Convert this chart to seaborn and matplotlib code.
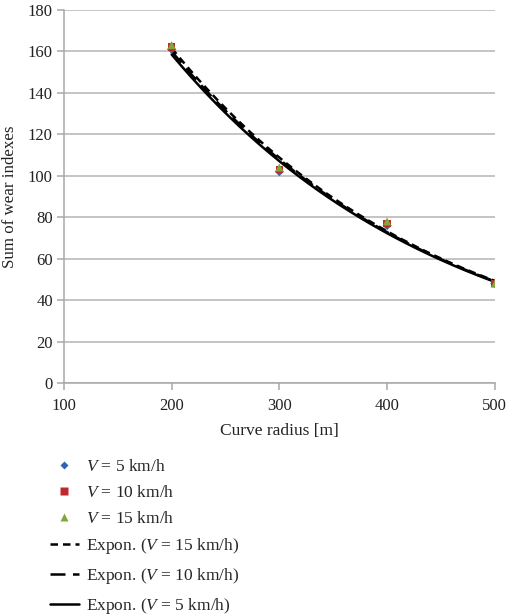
import numpy as np
import pandas as pd
import matplotlib
matplotlib.use("Agg")
import matplotlib.pyplot as plt
import seaborn as sns
from matplotlib.lines import Line2D

# Measured wear index sums per curve radius and running speed
radius = [200, 300, 400, 500]
wear_5 = [161, 102, 76, 48]
wear_10 = [162, 103, 77, 48]
wear_15 = [163, 104, 78, 48]
speeds = [5, 10, 15]

sns.set_theme(style="white")
plt.rcParams["font.family"] = ["Liberation Serif", "DejaVu Serif"]
plt.rcParams["mathtext.fontset"] = "custom"
plt.rcParams["mathtext.rm"] = "Liberation Serif"
plt.rcParams["mathtext.it"] = "Liberation Serif:italic"

points = pd.DataFrame({
    "radius": radius * 3,
    "wear": wear_5 + wear_10 + wear_15,
    "speed": [5] * 4 + [10] * 4 + [15] * 4,
})

# Exponential trendlines y = a*exp(b*x) fitted to each speed series
grid = np.linspace(200, 500, 200)
fits = []
for sp in speeds:
    sub = points[points["speed"] == sp]
    b, ln_a = np.polyfit(sub["radius"], np.log(sub["wear"]), 1)
    fits.append(pd.DataFrame({"radius": grid, "wear": np.exp(ln_a + b * grid), "speed": sp}))
fits = pd.concat(fits, ignore_index=True)

fig = plt.figure(figsize=(5.07, 6.16), dpi=100)
ax = fig.add_axes([0.126, 0.378, 0.85, 0.606])

line_styles = {15: (0, (3, 2)), 10: (0, (6, 3)), 5: "-"}
for sp in [15, 10, 5]:
    sub = fits[fits["speed"] == sp]
    sns.lineplot(data=sub, x="radius", y="wear", ax=ax, color="black",
                 lw=1.8, linestyle=line_styles[sp], legend=False, zorder=3)

marker_style = {5: ("D", "#2e64b4", 22), 10: ("s", "#c0282d", 30), 15: ("^", "#7ea83a", 34)}
for sp in speeds:
    sub = points[points["speed"] == sp]
    m, c, s = marker_style[sp]
    sns.scatterplot(data=sub, x="radius", y="wear", ax=ax, marker=m, color=c,
                    s=s, edgecolor="none", legend=False, zorder=4)

ax.set_xlim(100, 500)
ax.set_ylim(0, 180)
ax.set_xticks([100, 200, 300, 400, 500])
ax.set_yticks(range(0, 181, 20))
ax.yaxis.grid(True, color="#b4b4b4", lw=1.1)
ax.xaxis.grid(False)
for side in ["top", "right"]:
    ax.spines[side].set_visible(False)
for side in ["left", "bottom"]:
    ax.spines[side].set_color("#a8a8a8")
    ax.spines[side].set_linewidth(1.1)
ax.tick_params(axis="both", direction="out", length=5, width=1.1, color="#a8a8a8",
               labelsize=12, labelcolor="#222222", left=True, bottom=True)
ax.tick_params(axis="x", pad=6)
ax.tick_params(axis="y", pad=3)
ax.set_xlabel("Curve radius [m]", fontsize=12.5, color="#222222", labelpad=6)
ax.set_ylabel("Sum of wear indexes", fontsize=12.2, color="#222222", labelpad=7)

handles = [
    Line2D([], [], ls="none", marker="D", color="#2e64b4", ms=4.5, mec="none"),
    Line2D([], [], ls="none", marker="s", color="#c0282d", ms=5.5, mec="none"),
    Line2D([], [], ls="none", marker="^", color="#7ea83a", ms=6, mec="none"),
    Line2D([], [], color="black", lw=1.8, ls=(0, (3, 2))),
    Line2D([], [], color="black", lw=1.8, ls=(0, (6, 3))),
    Line2D([], [], color="black", lw=1.8, ls="-"),
]
labels = [
    "$V$ = 5 km/h",
    "$V$ = 10 km/h",
    "$V$ = 15 km/h",
    "Expon. ($V$ = 15 km/h)",
    "Expon. ($V$ = 10 km/h)",
    "Expon. ($V$ = 5 km/h)",
]
fig.legend(handles, labels, loc="upper left", bbox_to_anchor=(0.085, 0.2665),
           frameon=False, fontsize=12.5, handlelength=1.65, handletextpad=0.45,
           labelspacing=0.56, borderaxespad=0)

fig.savefig("out.png", dpi=100)
